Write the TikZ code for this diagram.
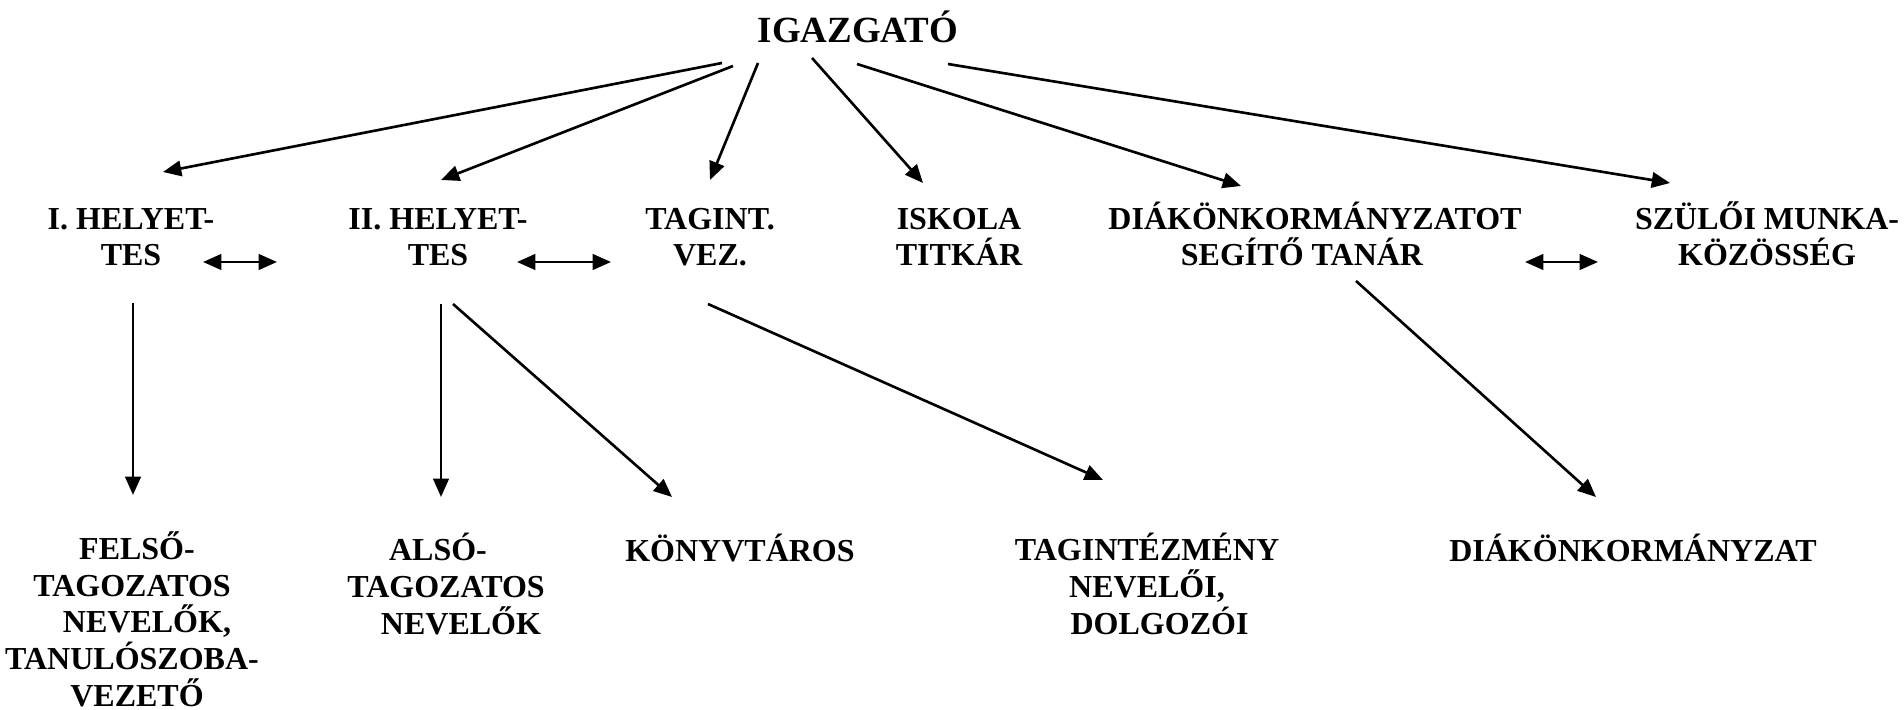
\documentclass[tikz,border=0pt]{standalone}
\usepackage{fontspec}
\setmainfont{Liberation Serif}[BoldFont={Liberation Serif Bold}]
\usepackage{tikz}
\usetikzlibrary{arrows.meta,calc}

\begin{document}
\begin{tikzpicture}[
	x=0.01cm, y=-0.01cm,
	lbl/.style={font=\bfseries\fontsize{9.1}{10.4}\selectfont, align=center, inner sep=0, anchor=base},
	conn/.style={-{Triangle[length=5.2pt,width=4.4pt]}, line width=0.75pt},
	both/.style={{Triangle[length=5.2pt,width=4.4pt]}-{Triangle[length=5.2pt,width=4.4pt]}, line width=0.75pt}
]
\useasboundingbox (0,0) rectangle (1904,710);

\node[lbl, font=\bfseries\fontsize{10.5}{12}\selectfont] (igazgato) at (858,43) {IGAZGATÓ};

% base = last line
\node[lbl] (hely1) at (131,266) {I. HELYET-\\TES};
\node[lbl] (hely2) at (438,266) {II. HELYET-\\TES};
\node[lbl] (tagvez) at (710,266) {TAGINT.\\VEZ.};
\node[lbl] (titkar) at (959,266) {ISKOLA\\TITKÁR};
\node[lbl] (dok) at (1315,266) {DIÁKÖNKORMÁNYZATOT\\SEGÍTŐ TANÁR\hspace*{.26cm}};
\node[lbl] (szmk) at (1767,266) {SZÜLŐI MUNKA-\\KÖZÖSSÉG};

\node[lbl] (felso) at (132,706) {\hspace*{.1cm}FELSŐ-\\TAGOZATOS\\\hspace*{.3cm}NEVELŐK,\\TANULÓSZOBA-\\\hspace*{.1cm}VEZETŐ};
\node[lbl] (also) at (446,634) {ALSÓ-\hspace*{.16cm}\\TAGOZATOS\\\hspace*{.3cm}NEVELŐK};
\node[lbl] (konyv) at (740,561) {KÖNYVTÁROS};
\node[lbl] (tagint) at (1147,634) {TAGINTÉZMÉNY\\NEVELŐI,\\\hspace*{.25cm}DOLGOZÓI};
\node[lbl] (diak) at (1633,561) {DIÁKÖNKORMÁNYZAT};

% igazgato -> helyettesek, tagok
\draw[conn] ($(igazgato.base)+(-136,20)$) -- ($(hely1.base)+(32,-94)$);
\draw[conn] ($(igazgato.base)+(-125,23)$) -- ($(hely2.base)+(3,-86)$);
\draw[conn] ($(igazgato.base)+(-100,20)$) -- ($(tagvez.base)+(0,-86)$);
\draw[conn] ($(igazgato.base)+(-46,15)$) -- ($(titkar.base)+(-36,-83)$);
\draw[conn] ($(igazgato.base)+(-1,21)$) -- ($(dok.base)+(-74,-80)$);
\draw[conn] ($(igazgato.base)+(90,21)$) -- ($(szmk.base)+(-97,-83)$);

% kapcsolatok
\draw[both] ($(hely1.base)+(72,-4)$) -- ($(hely2.base)+(-161,-4)$);
\draw[both] ($(hely2.base)+(79,-4)$) -- ($(tagvez.base)+(-99,-4)$);
\draw[both] ($(dok.base)+(210,-4)$) -- ($(szmk.base)+(-169,-4)$);

% also szint
\draw[conn] ($(hely1.base)+(2,37)$) -- ($(felso.base)+(1,-211)$);
\draw[conn] ($(hely2.base)+(3,38)$) -- ($(also.base)+(-5,-137)$);
\draw[conn] ($(hely2.base)+(15,38)$) -- ($(konyv.base)+(-68,-64)$);
\draw[conn] ($(tagvez.base)+(-2,38)$) -- ($(tagint.base)+(-44,-154)$);
\draw[conn] ($(dok.base)+(41,15)$) -- ($(diak.base)+(-37,-64)$);
\end{tikzpicture}
\end{document}
